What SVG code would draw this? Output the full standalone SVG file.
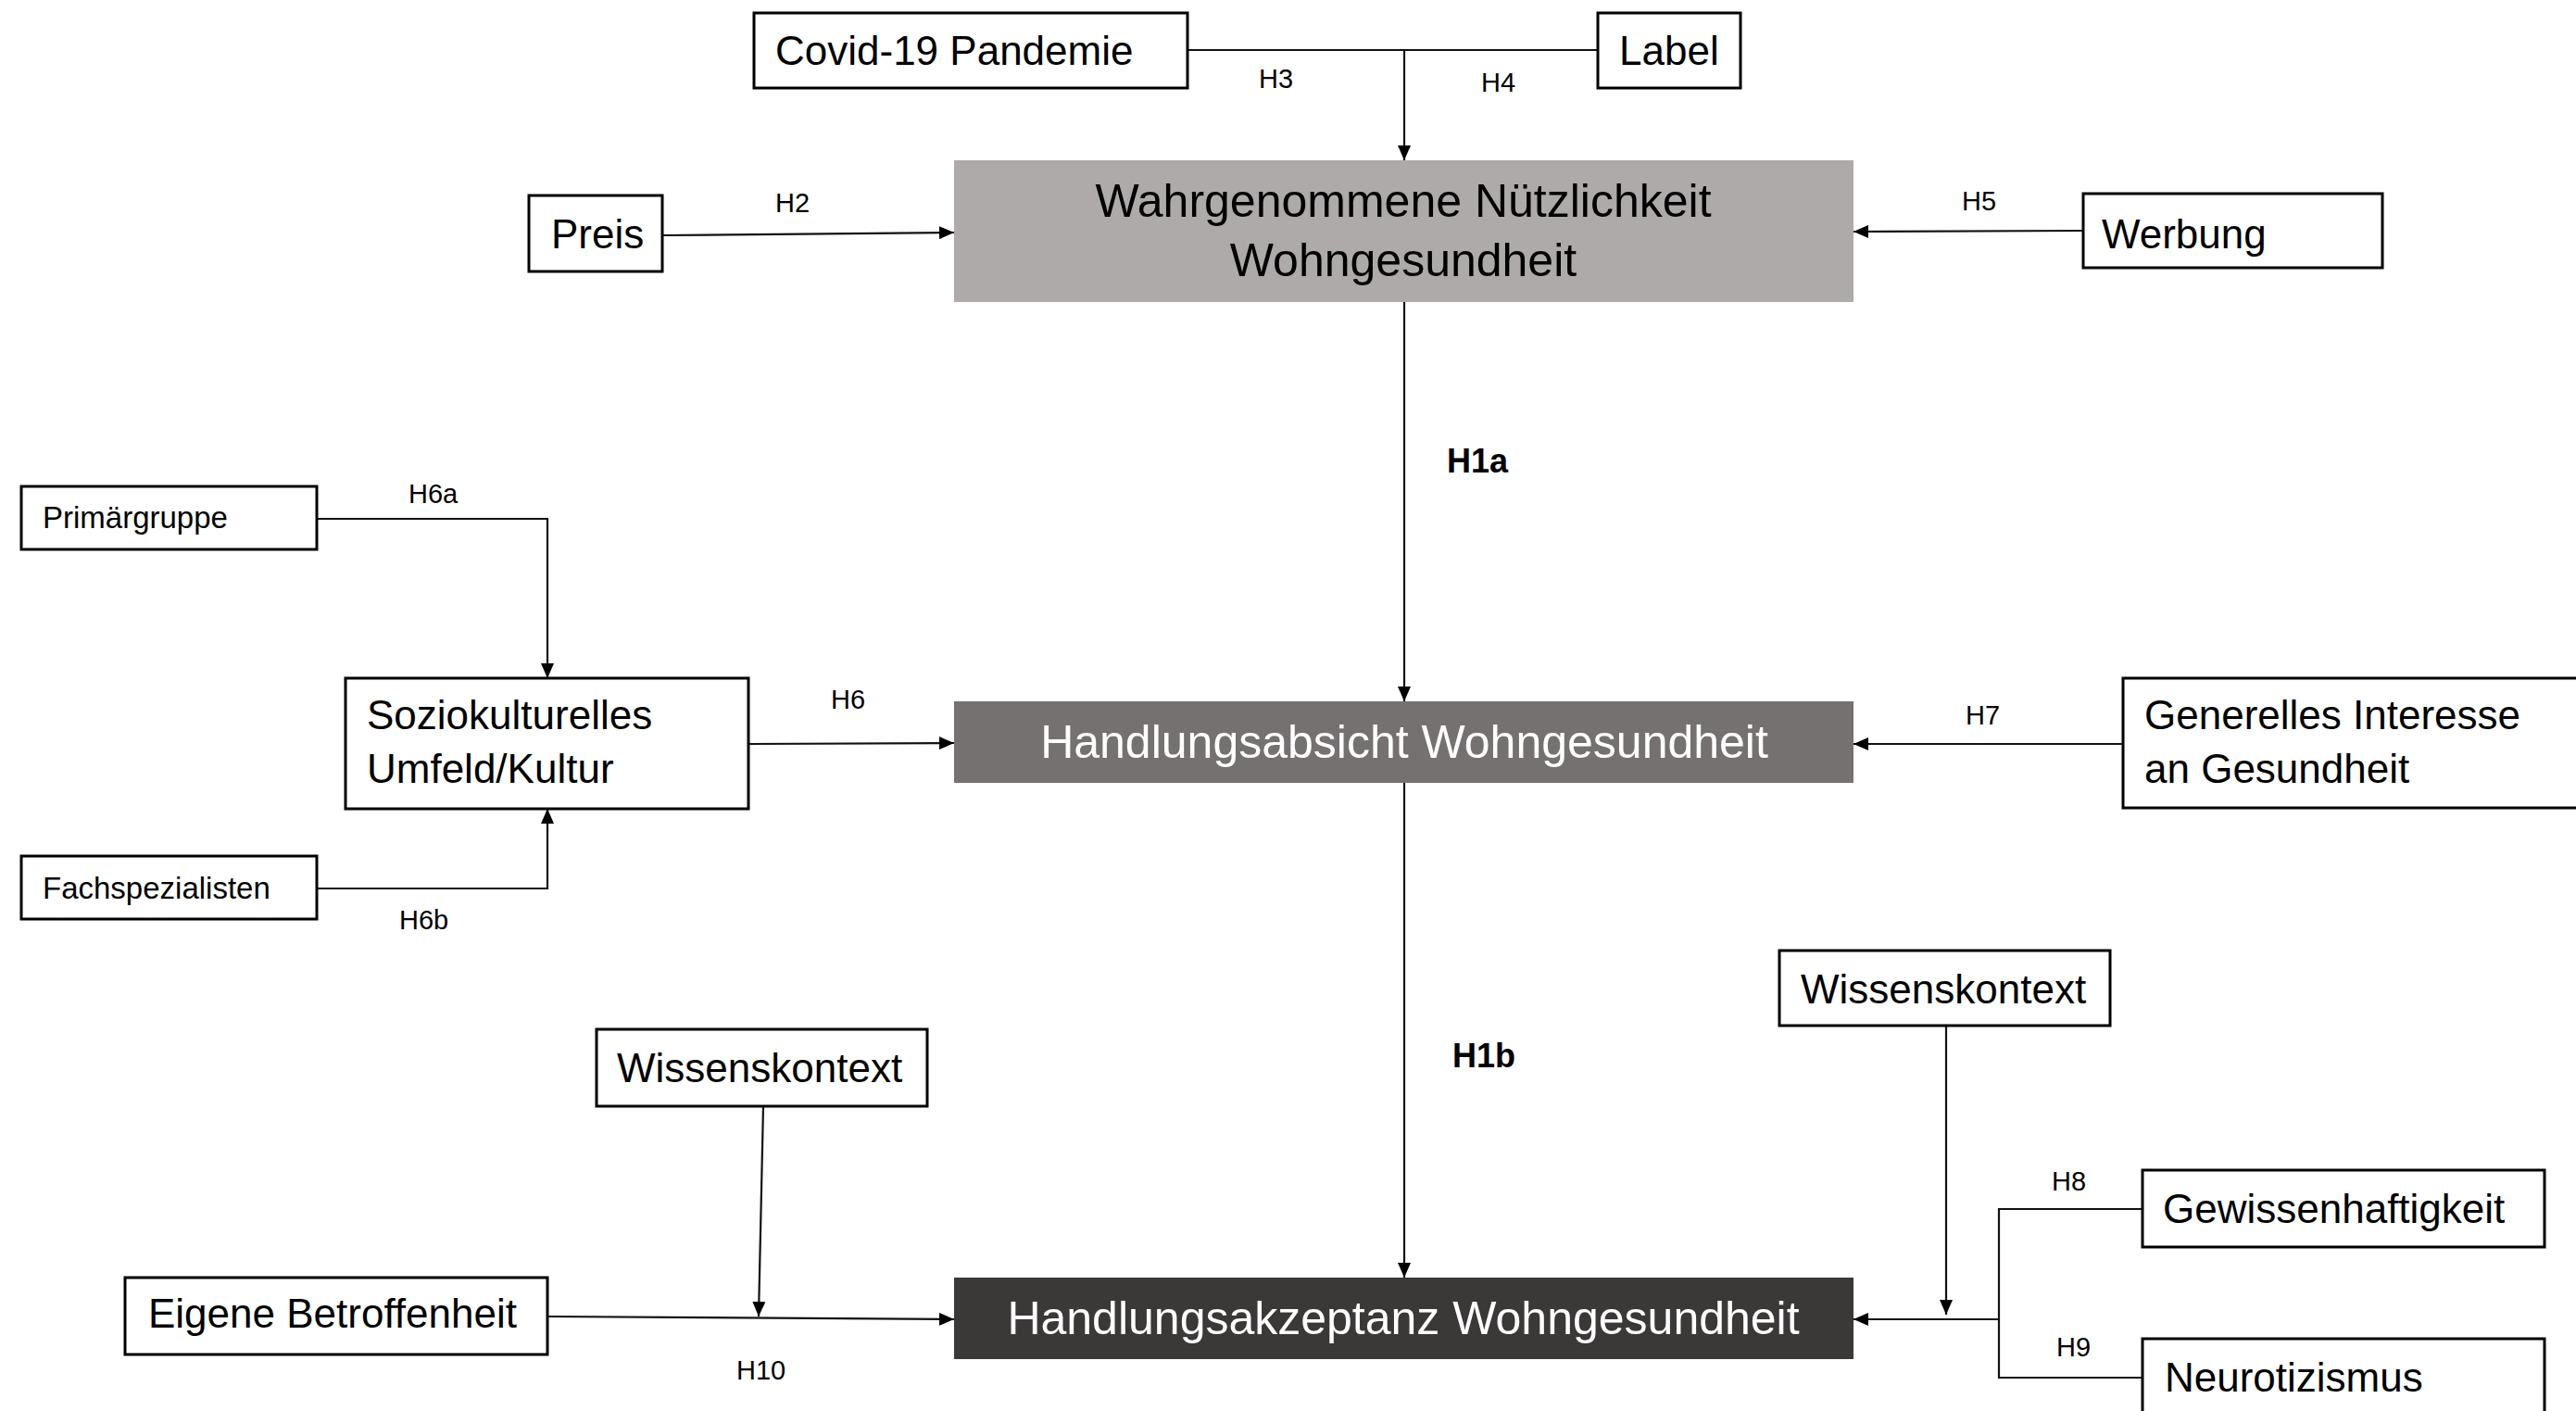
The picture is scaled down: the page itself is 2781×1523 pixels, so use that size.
<svg xmlns="http://www.w3.org/2000/svg" width="2781" height="1523" viewBox="0 0 2781 1523">
<style>
.bg{fill:#ffffff}
.node rect{fill:#ffffff;stroke:#000000;stroke-width:3}
.t{font-family:"Liberation Sans",Arial,sans-serif;font-size:44px;fill:#000000}
.ts{font-family:"Liberation Sans",Arial,sans-serif;font-size:33px;fill:#000000}
.tm{font-family:"Liberation Sans",Arial,sans-serif;font-size:50px;text-anchor:middle}
.h{font-family:"Liberation Sans",Arial,sans-serif;font-size:29px;fill:#000000}
.hb{font-family:"Liberation Sans",Arial,sans-serif;font-size:36px;font-weight:bold;fill:#000000}
.c path{fill:none;stroke:#111111;stroke-width:2.2}
.c path.a{marker-end:url(#arr)}
</style>
<defs>
<marker id="arr" viewBox="0 0 16 14" refX="16" refY="7" markerWidth="16" markerHeight="14" markerUnits="userSpaceOnUse" orient="auto">
<path d="M0,0 L16,7 L0,14 Z" fill="#000000"/>
</marker>
</defs>
<rect class="bg" x="0" y="0" width="2781" height="1523"/>

<g id="connectors" class="c">
<path d="M1282,54 H1725"/>
<path class="a" d="M1516,54 V173"/>
<path class="a" d="M715,254 L1030,251"/>
<path class="a" d="M2248,249 L2001,250"/>
<path class="a" d="M1516,326 V757"/>
<path class="a" d="M1516,845 V1379"/>
<path class="a" d="M342,560 H591 V732"/>
<path class="a" d="M342,959 H591 V873"/>
<path class="a" d="M808,803 L1030,802"/>
<path class="a" d="M2292,803 H2001"/>
<path class="a" d="M824,1194 L819,1421"/>
<path class="a" d="M591,1421 L1030,1424"/>
<path class="a" d="M2101,1107 V1419"/>
<path d="M2313,1305 H2158 V1487 H2313"/>
<path class="a" d="M2158,1424 H2001"/>
</g>

<g id="labels">
<text class="h" x="1359" y="95">H3</text>
<text class="h" x="1599" y="99">H4</text>
<text class="h" x="837" y="229">H2</text>
<text class="h" x="2118" y="227">H5</text>
<text class="hb" x="1562" y="510">H1a</text>
<text class="hb" x="1568" y="1152">H1b</text>
<text class="h" x="441" y="543">H6a</text>
<text class="h" x="897" y="765">H6</text>
<text class="h" x="431" y="1003">H6b</text>
<text class="h" x="2122" y="782">H7</text>
<text class="h" x="2215" y="1285">H8</text>
<text class="h" x="2220" y="1464">H9</text>
<text class="h" x="795" y="1489">H10</text>
</g>

<g id="covid" class="node"><rect x="814" y="14" width="468" height="81"/><text class="t" x="837" y="70">Covid-19 Pandemie</text></g>
<g id="label" class="node"><rect x="1725" y="14" width="154" height="81"/><text class="t" x="1748" y="70">Label</text></g>
<g id="preis" class="node"><rect x="571" y="211" width="144" height="82"/><text class="t" x="595" y="268">Preis</text></g>
<g id="werbung" class="node"><rect x="2249" y="209" width="323" height="80"/><text class="t" x="2269" y="268">Werbung</text></g>

<g id="nuetzlichkeit"><rect x="1030" y="173" width="971" height="153" fill="#aeaaaa"/>
<text class="tm" x="1515" y="234" fill="#000000">Wahrgenommene Nützlichkeit</text>
<text class="tm" x="1515" y="298" fill="#000000">Wohngesundheit</text></g>

<g id="absicht"><rect x="1030" y="757" width="971" height="88" fill="#767171"/>
<text class="tm" x="1516" y="818" fill="#ffffff">Handlungsabsicht Wohngesundheit</text></g>

<g id="akzeptanz"><rect x="1030" y="1379" width="971" height="88" fill="#3b3838"/>
<text class="tm" x="1515" y="1440" fill="#ffffff">Handlungsakzeptanz Wohngesundheit</text></g>

<g id="primaergruppe" class="node"><rect x="23" y="525" width="319" height="68"/><text class="ts" x="46" y="570">Primärgruppe</text></g>
<g id="fachspezialisten" class="node"><rect x="23" y="924" width="319" height="68"/><text class="ts" x="46" y="970">Fachspezialisten</text></g>
<g id="soziokultur" class="node"><rect x="373" y="732" width="435" height="141"/><text class="t" x="396" y="787">Soziokulturelles</text><text class="t" x="396" y="845">Umfeld/Kultur</text></g>
<g id="interesse" class="node"><rect x="2292" y="732" width="500" height="140"/><text class="t" x="2315" y="787">Generelles Interesse</text><text class="t" x="2315" y="845">an Gesundheit</text></g>

<g id="wissen-links" class="node"><rect x="644" y="1111" width="357" height="83"/><text class="t" x="666" y="1168">Wissenskontext</text></g>
<g id="eigene" class="node"><rect x="135" y="1379" width="456" height="83"/><text class="t" x="160" y="1433">Eigene Betroffenheit</text></g>
<g id="wissen-rechts" class="node"><rect x="1921" y="1026" width="357" height="81"/><text class="t" x="1944" y="1083">Wissenskontext</text></g>
<g id="gewissenhaftigkeit" class="node"><rect x="2313" y="1263" width="434" height="83"/><text class="t" x="2335" y="1320">Gewissenhaftigkeit</text></g>
<g id="neurotizismus" class="node"><rect x="2313" y="1445" width="434" height="90"/><text class="t" x="2337" y="1502">Neurotizismus</text></g>
</svg>
